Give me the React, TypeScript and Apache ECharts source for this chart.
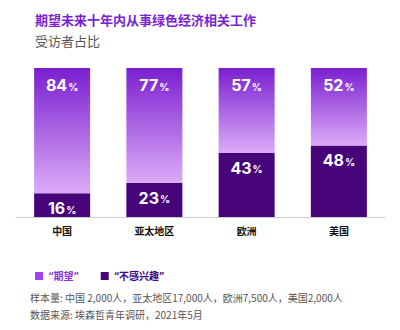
import React, { useEffect, useRef } from "react";
import * as echarts from "echarts";

const categories = ["中国", "亚太地区", "欧洲", "美国"];
const expectValues = [84, 77, 57, 52];
const notInterestedValues = [16, 23, 43, 48];
const seriesNames = ["“期望”", "“不感兴趣”"];
const titleText = "期望未来十年内从事绿色经济相关工作";
const subtitleText = "受访者占比";
const footLines = [
  "样本量: 中国 2,000人，亚太地区17,000人，欧洲7,500人，美国2,000人",
  "数据来源: 埃森哲青年调研，2021年5月",
];

const FONT = "'Noto Sans CJK SC', 'Noto Sans', sans-serif";
const NUMFONT = "Inter, Roboto, 'Noto Sans', sans-serif";
const LEGFONT = "Inter, 'Noto Sans CJK SC', sans-serif";

export default function App() {
  const ref = useRef<HTMLDivElement>(null);
  useEffect(() => {
    if (!ref.current) return;
    const chart = echarts.init(ref.current, null, { renderer: "svg" });
    const pctLabel = (distance: number) => ({
      show: true,
      position: "insideTop" as const,
      distance,
      formatter: (p: any) => `{n|${p.value}}{p|%}`,
      rich: {
        n: { fontFamily: NUMFONT, fontWeight: "bold", fontSize: 16, color: "#fff" },
        p: { fontFamily: NUMFONT, fontWeight: "bold", fontSize: 10, color: "#fff", padding: [3, 0, 0, 1] },
      },
    });
    chart.setOption({
      animation: false,
      backgroundColor: "#fff",
      grid: { left: 16, right: 15, top: 68, bottom: 113 },
      title: [
        {
          text: titleText,
          left: 30,
          top: 8,
          textStyle: { fontFamily: FONT, fontSize: 13, fontWeight: "bold", color: "#7a1fd6" },
        },
        {
          text: subtitleText,
          left: 30,
          top: 29,
          textStyle: { fontFamily: FONT, fontSize: 13, fontWeight: "normal", color: "#555" },
        },
      ],
      legend: {
        left: 30,
        top: 266,
        itemWidth: 8,
        itemHeight: 8,
        itemGap: 22,
        icon: "rect",
        textStyle: { fontFamily: LEGFONT, fontSize: 10, fontWeight: "bold" },
        data: [
          { name: seriesNames[0], itemStyle: { color: "#a63ff2" }, textStyle: { color: "#8e2fe0" } },
          { name: seriesNames[1], itemStyle: { color: "#46037a" }, textStyle: { color: "#46037a" } },
        ],
      },
      xAxis: {
        type: "category",
        data: categories,
        axisLine: { lineStyle: { color: "#cccccc", width: 1 } },
        axisTick: { show: false },
        axisLabel: {
          margin: 8,
          fontFamily: FONT,
          fontSize: 10,
          fontWeight: "bold",
          color: "#111",
        },
      },
      yAxis: {
        type: "value",
        min: 0,
        max: 100,
        show: false,
        splitLine: { show: false },
      },
      series: [
        {
          name: seriesNames[1],
          type: "bar",
          stack: "total",
          barWidth: 56,
          data: notInterestedValues,
          itemStyle: { color: "#46037a" },
          label: pctLabel(7),
        },
        {
          name: seriesNames[0],
          type: "bar",
          stack: "total",
          barWidth: 56,
          data: expectValues,
          itemStyle: {
            color: new echarts.graphic.LinearGradient(0, 0, 0, 1, [
              { offset: 0, color: "#7a1fd0" },
              { offset: 1, color: "#dcabf7" },
            ]),
          },
          label: pctLabel(9),
        },
      ],
      graphic: footLines.map((t, i) => ({
        type: "text",
        left: 30,
        top: 292 + i * 17,
        style: { text: t, fontFamily: FONT, fontSize: 10, fill: "#555" },
      })),
    });
    return () => chart.dispose();
  }, []);
  return <div ref={ref} style={{ width: 400, height: 330, margin: -8 }} />;
}
